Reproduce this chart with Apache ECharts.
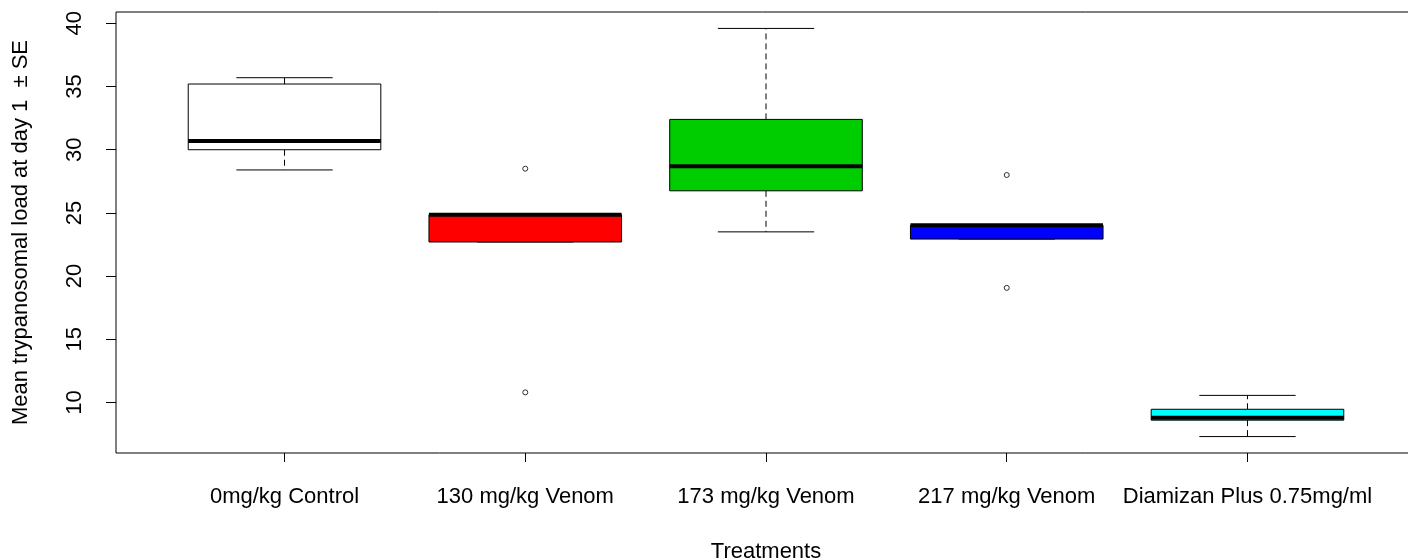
<!DOCTYPE html>
<html>
<head>
<meta charset="utf-8">
<script src="https://cdn.jsdelivr.net/npm/echarts@6/dist/echarts.min.js"></script>
<style>
  html, body { margin: 0; padding: 0; background: #fff; }
  #chart { width: 1408px; height: 560px; }
</style>
</head>
<body>
<div id="chart"></div>
<script>
// Treatments on the x axis (positions 1..5)
const categories = ['0mg/kg Control', '130 mg/kg Venom', '173 mg/kg Venom', '217 mg/kg Venom', 'Diamizan Plus 0.75mg/ml']
const boxColors = ['#ffffff', '#ff0000', '#00cd00', '#0000ff', '#00ffff']

// Five-number summaries
const lowWhisker = [28.4, 22.7, 23.5, 22.93, 7.3]
const q1 = [30.0, 22.7, 26.75, 22.93, 8.6]
const median = [30.7, 24.86, 28.7, 24.02, 8.78]
const q3 = [35.2, 24.86, 32.4, 24.02, 9.46]
const highWhisker = [35.7, 24.86, 39.6, 24.02, 10.56]

// Outliers: [treatment index, value]
const outliers = [[1, 28.5], [1, 10.8], [3, 28.0], [3, 19.07]]

const yTicks = [10, 15, 20, 25, 30, 35, 40]
const xTicks = [1, 2, 3, 4, 5]

const FONT = '"Liberation Sans", Arial, sans-serif'

const boxData = categories.map((c, i) => [i + 1, lowWhisker[i], q1[i], median[i], q3[i], highWhisker[i], i])

// R-style box: dashed whiskers, solid caps, thick median
function renderBox(params, api) {
  const x = api.value(0)
  const idx = api.value(6)
  const pt = v => api.coord([x, v])
  const boxHalf = api.size([0.8, 0])[0] / 2
  const capHalf = api.size([0.4, 0])[0] / 2
  const cx = pt(0)[0]
  const yLo = pt(api.value(1))[1]
  const yQ1 = pt(api.value(2))[1]
  const yMed = pt(api.value(3))[1]
  const yQ3 = pt(api.value(4))[1]
  const yHi = pt(api.value(5))[1]

  const black = { stroke: '#000', lineWidth: 1 }
  const dashed = { stroke: '#000', lineWidth: 1, lineDash: [6, 4] }

  return {
    type: 'group',
    children: [
      { type: 'line', shape: { x1: cx, y1: yQ1, x2: cx, y2: yLo }, style: dashed },
      { type: 'line', shape: { x1: cx, y1: yQ3, x2: cx, y2: yHi }, style: dashed },
      { type: 'line', shape: { x1: cx - capHalf, y1: yLo, x2: cx + capHalf, y2: yLo }, style: black },
      { type: 'line', shape: { x1: cx - capHalf, y1: yHi, x2: cx + capHalf, y2: yHi }, style: black },
      {
        type: 'rect',
        shape: { x: cx - boxHalf, y: yQ3, width: boxHalf * 2, height: yQ1 - yQ3 },
        style: { fill: boxColors[idx], stroke: '#000', lineWidth: 1 }
      },
      { type: 'line', shape: { x1: cx - boxHalf, y1: yMed, x2: cx + boxHalf, y2: yMed }, style: { stroke: '#000', lineWidth: 4 } }
    ]
  }
}

const chart = echarts.init(document.getElementById('chart'))

chart.setOption({
  animation: false,
  backgroundColor: '#fff',
  textStyle: { fontFamily: FONT },
  grid: {
    left: 116,
    top: 12,
    width: 1300,
    height: 441,
    outerBoundsMode: 'none',
    containLabel: false,
    show: true,
    borderColor: '#000',
    borderWidth: 1,
    backgroundColor: 'transparent'
  },
  xAxis: {
    type: 'value',
    min: 0.3,
    max: 5.7,
    name: 'Treatments',
    nameLocation: 'middle',
    nameGap: 88,
    nameTextStyle: { fontSize: 22, color: '#000', fontFamily: FONT },
    axisLine: { show: false },
    splitLine: { show: false },
    axisTick: { show: true, length: 9, customValues: xTicks, lineStyle: { color: '#000' } },
    axisLabel: {
      customValues: xTicks,
      margin: 33,
      fontSize: 22,
      color: '#000',
      fontFamily: FONT,
      formatter: v => categories[v - 1]
    }
  },
  yAxis: {
    type: 'value',
    min: 6.0,
    max: 40.9,
    name: 'Mean trypanosomal load at day 1  ± SE',
    nameLocation: 'middle',
    nameGap: 84,
    nameRotate: 90,
    nameTextStyle: { fontSize: 22, color: '#000', fontFamily: FONT },
    axisLine: { show: false },
    splitLine: { show: false },
    axisTick: { show: true, length: 10, customValues: yTicks, lineStyle: { color: '#000' } },
    axisLabel: {
      customValues: yTicks,
      rotate: 90,
      margin: 30,
      fontSize: 22,
      color: '#000',
      fontFamily: FONT
    }
  },
  series: [
    {
      type: 'custom',
      renderItem: renderBox,
      encode: { x: 0, y: [1, 5] },
      data: boxData,
      z: 2
    },
    {
      type: 'scatter',
      symbol: 'circle',
      symbolSize: 5,
      itemStyle: { color: '#fff', borderColor: '#000', borderWidth: 1 },
      data: outliers.map(o => [o[0] + 1, o[1]]),
      z: 3
    }
  ]
})
</script>
</body>
</html>
